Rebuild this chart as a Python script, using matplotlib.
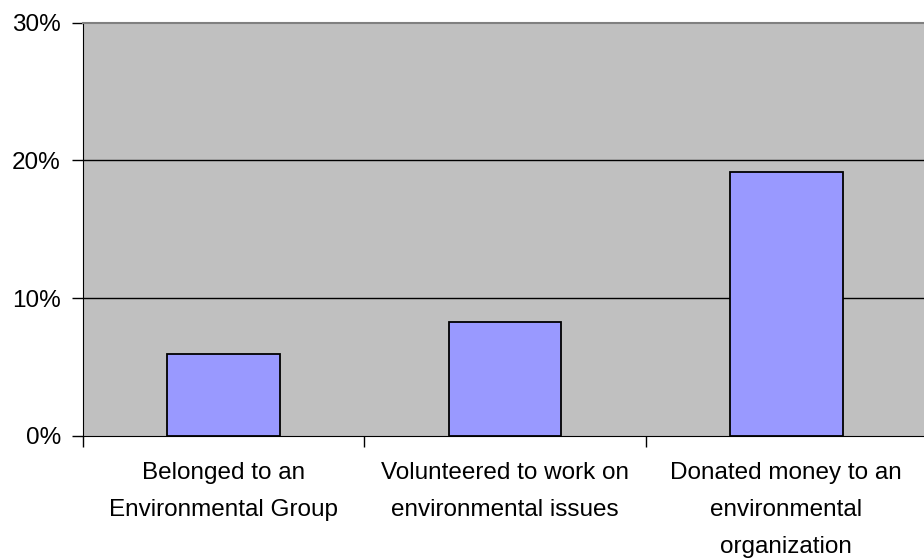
import numpy as np
import matplotlib.pyplot as plt
from matplotlib.ticker import FuncFormatter

plt.rcParams['font.family'] = ['Liberation Sans', 'DejaVu Sans']

categories = ["Belonged to an\nEnvironmental Group",
              "Volunteered to work on\nenvironmental issues",
              "Donated money to an\nenvironmental\norganization"]
values = [5.93, 8.26, 19.13]  # percent
y_ticks = [0, 10, 20, 30]

fig = plt.figure(figsize=(9.24, 5.59), dpi=100)
ax = fig.add_axes([83 / 924, 123 / 559, 844 / 924, 413.5 / 559])
ax.set_facecolor('#C0C0C0')

x = np.arange(len(categories))
ax.bar(x, values, width=0.4, color='#9999FF', edgecolor='black', linewidth=1.3, zorder=3)

ax.set_xlim(-0.5, len(categories) - 0.5)
ax.set_ylim(0, 30)
ax.set_yticks(y_ticks)
ax.yaxis.set_major_formatter(FuncFormatter(lambda v, p: f"{v:.0f}%"))
for v in y_ticks[1:-1]:
    ax.axhline(v, color='black', linewidth=1, zorder=1)

# category boundaries get the ticks, labels sit at the centres
ax.set_xticks(np.arange(-0.5, len(categories), 1.0))
ax.set_xticklabels([])
ax.set_xticks(x, minor=True)
ax.set_xticklabels(categories, minor=True, fontsize=17.5, linespacing=1.88)
ax.tick_params(axis='x', which='major', length=8, width=1, color='black')
ax.tick_params(axis='x', which='minor', length=0, pad=19)
ax.tick_params(axis='y', length=8, width=1, pad=8, labelsize=17.5)

ax.spines['right'].set_visible(False)
ax.spines['top'].set_color('#808080')
ax.spines['top'].set_linewidth(1.5)
ax.spines['left'].set_color('black')
ax.spines['bottom'].set_color('black')

fig.savefig('out.png', dpi=100)
